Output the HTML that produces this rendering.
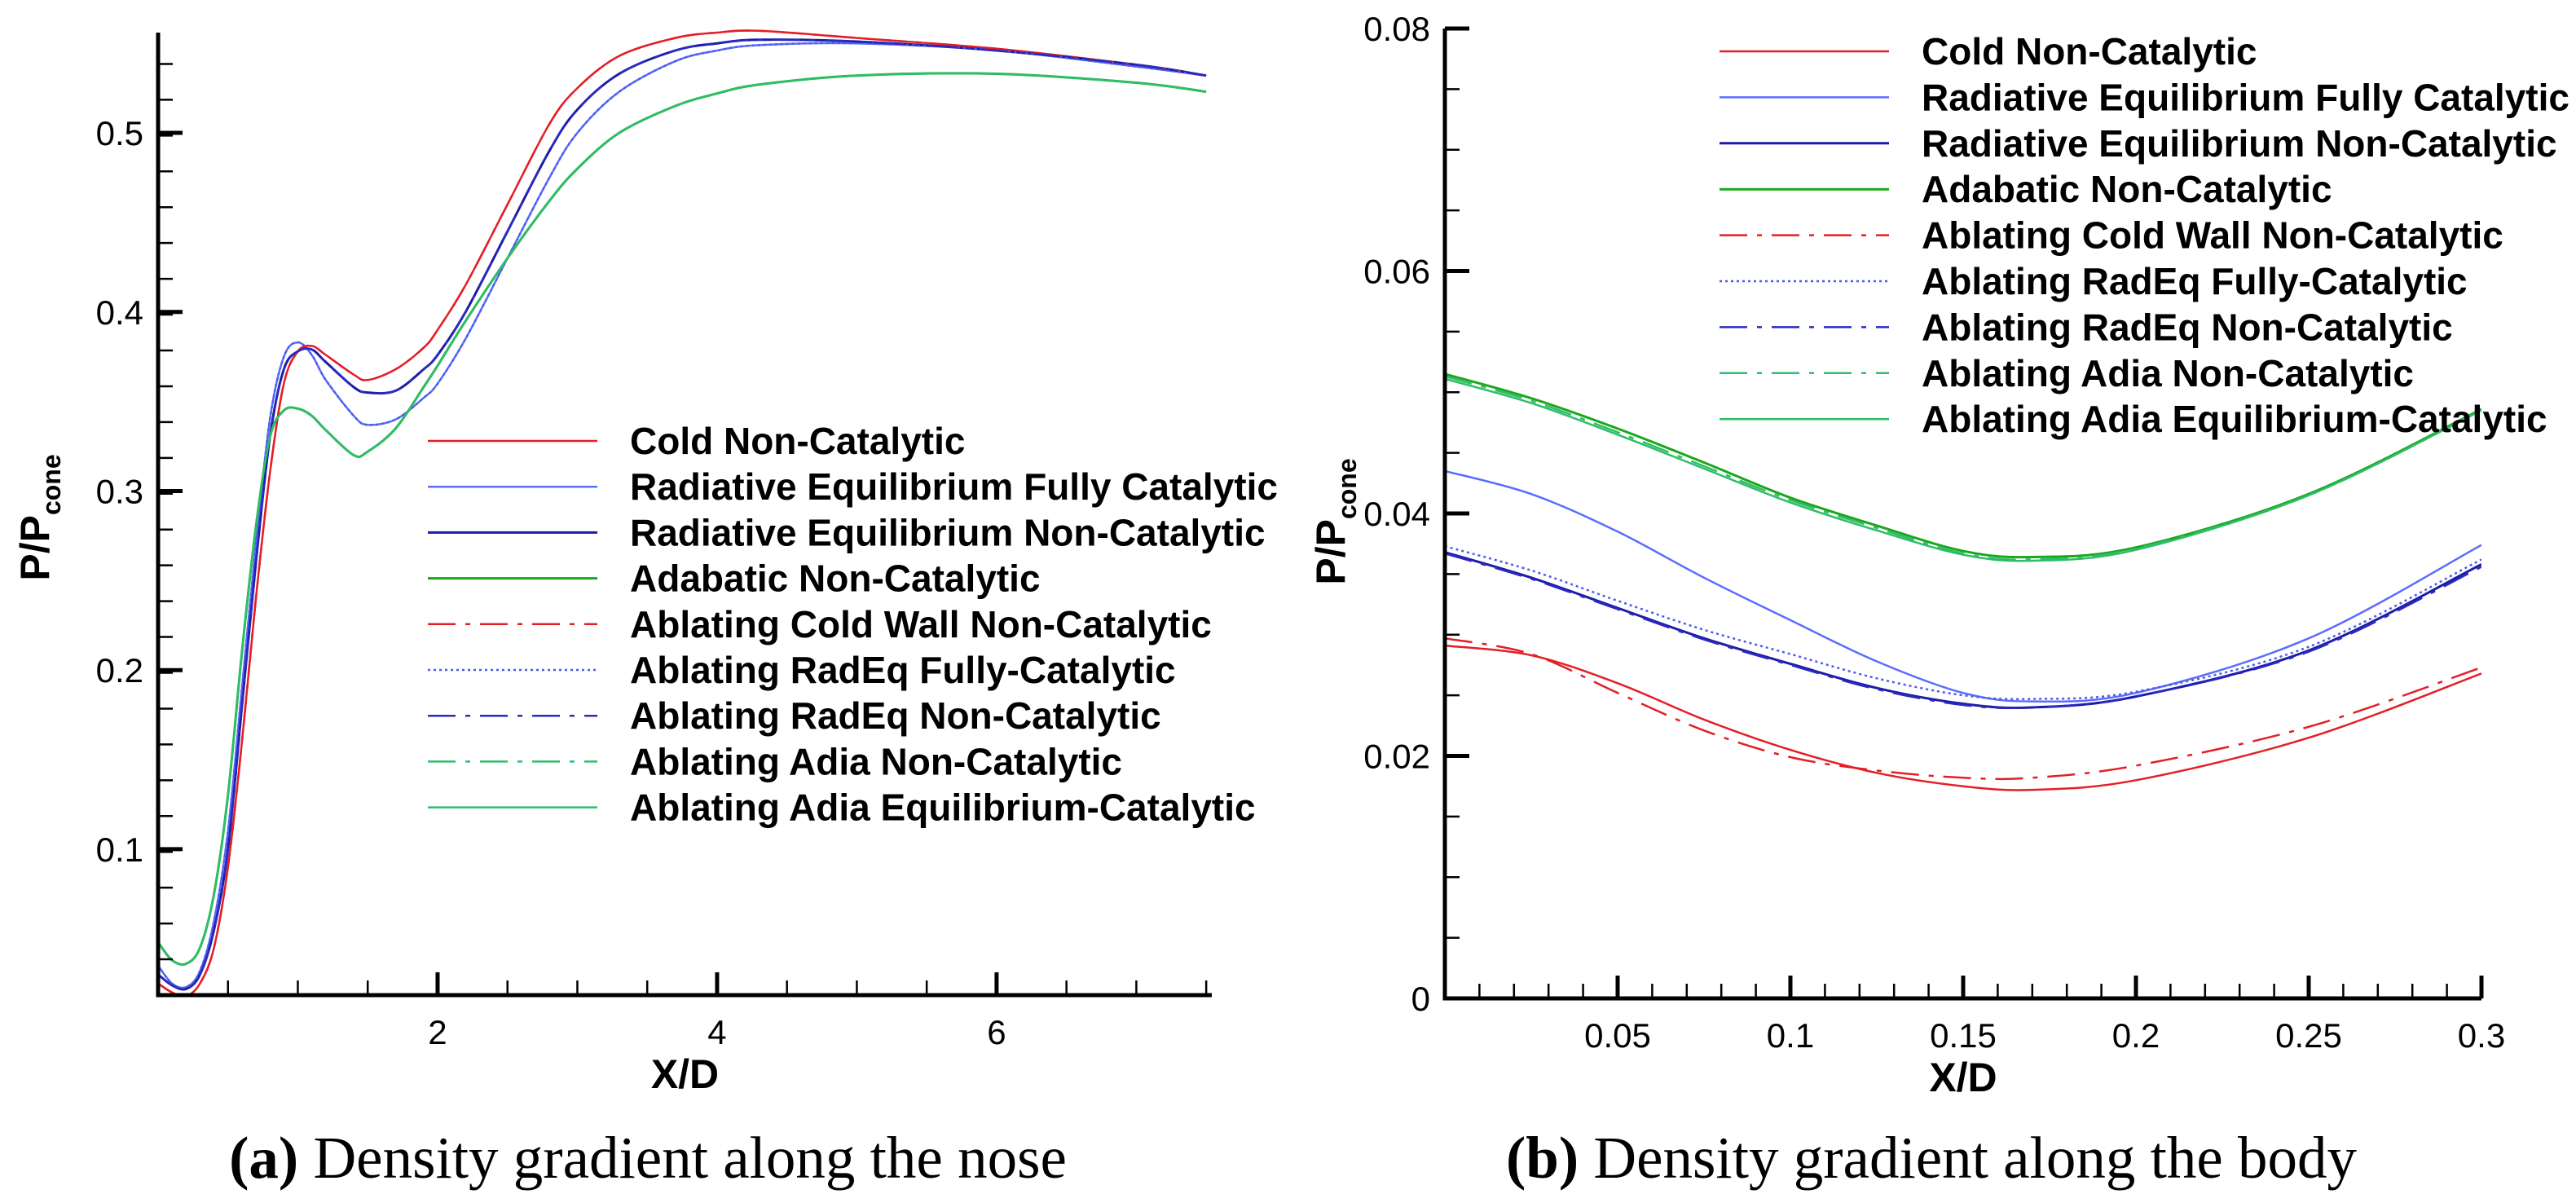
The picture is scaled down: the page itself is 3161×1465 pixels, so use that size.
<!DOCTYPE html>
<html><head><meta charset="utf-8">
<style>
html,body{margin:0;padding:0;background:#fff;}
svg{display:block;}
text{font-family:"Liberation Sans",Arial,sans-serif;}
.tick{font-size:42px;fill:#000;}
.leg{font-size:46px;font-weight:bold;fill:#000;}
.axt{font-size:50px;font-weight:bold;fill:#000;}
.cap{font-family:"Liberation Serif",serif;font-size:73px;fill:#000;}
</style></head>
<body>
<svg id="fig" width="3161" height="1465" viewBox="0 0 3161 1465" xmlns="http://www.w3.org/2000/svg">
<g id="chartA"></g>
<g id="chartB"></g>
<text class="cap" x="795" y="1445" text-anchor="middle"><tspan font-weight="bold">(a)</tspan> Density gradient along the nose</text>
<text class="cap" x="2370" y="1445" text-anchor="middle"><tspan font-weight="bold">(b)</tspan> Density gradient along the body</text>
</svg>
<script>
// ---------- Chart A data (nose) ----------
const aX = [0,0.1,0.2,0.3,0.4,0.5,0.6,0.7,0.8,0.9,1.0,1.1,1.2,1.4,1.5,1.7,1.9,2.0,2.2,2.5,2.8,3.0,3.3,3.7,4.0,4.3,5.0,6.0,7.0,7.5];
const aCold = [0.025,0.02,0.018,0.025,0.045,0.09,0.16,0.24,0.31,0.36,0.378,0.381,0.376,0.365,0.362,0.368,0.38,0.39,0.415,0.46,0.505,0.525,0.543,0.553,0.556,0.557,0.553,0.547,0.538,0.532];
const aRadFC = [0.035,0.025,0.023,0.032,0.06,0.11,0.19,0.27,0.34,0.375,0.383,0.376,0.362,0.342,0.337,0.34,0.352,0.36,0.385,0.43,0.475,0.5,0.523,0.54,0.546,0.549,0.55,0.546,0.537,0.532];
const aRadNC = [0.03,0.024,0.022,0.03,0.055,0.1,0.18,0.26,0.33,0.368,0.378,0.379,0.372,0.358,0.355,0.356,0.368,0.376,0.4,0.445,0.49,0.513,0.533,0.546,0.55,0.552,0.551,0.546,0.538,0.532];
const aAdia = [0.048,0.038,0.036,0.045,0.075,0.13,0.21,0.28,0.33,0.345,0.346,0.342,0.334,0.32,0.322,0.335,0.358,0.37,0.395,0.43,0.462,0.48,0.5,0.515,0.522,0.527,0.532,0.533,0.528,0.523];
const aAbCold = aCold.slice();
const aAbRadFC = aRadFC.slice();
const aAbRadNC = aRadNC.slice();
const aAbAdiaNC = aAdia.slice();
const aAbAdiaEq = aAdia.slice();
const aYTicks = [0.1,0.2,0.3,0.4,0.5];
const aXTicks = [2,4,6];

// ---------- Chart B data (body) ----------
const bX = [0,0.025,0.05,0.075,0.1,0.125,0.15,0.17,0.2,0.25,0.3];
const bCold = [0.0291,0.0283,0.026,0.023,0.0205,0.0186,0.0175,0.0172,0.018,0.0215,0.0268];
const bRadFC = [0.0435,0.0416,0.0385,0.0347,0.0312,0.0278,0.0252,0.0245,0.0252,0.0297,0.0374];
const bRadNC = [0.0368,0.0347,0.0322,0.0297,0.0276,0.0256,0.0243,0.024,0.0249,0.0287,0.0358];
const bAdia = [0.0515,0.0495,0.047,0.0442,0.0413,0.039,0.0369,0.0364,0.0372,0.0416,0.0486];
const bAbCold = [0.0297,0.0284,0.0252,0.0221,0.0199,0.0188,0.0182,0.0182,0.0192,0.0224,0.0273];
const bAbRadFC = [0.0373,0.0353,0.0328,0.0304,0.0284,0.0264,0.025,0.0247,0.0253,0.029,0.0362];
const bAbRadNC = [0.0367,0.0346,0.0321,0.0296,0.0275,0.0255,0.0242,0.024,0.0249,0.0286,0.0356];
const bAbAdiaNC = [0.0513,0.0493,0.0467,0.0439,0.0411,0.0388,0.0367,0.0362,0.0371,0.0415,0.0485];
const bAbAdiaEq = [0.0511,0.0491,0.0465,0.0437,0.0409,0.0386,0.0366,0.0361,0.037,0.0415,0.0485];
const bYTicks = [0,0.02,0.04,0.06,0.08];
const bXTicks = [0.05,0.1,0.15,0.2,0.25,0.3];

const legendNames = ["Cold Non-Catalytic","Radiative Equilibrium Fully Catalytic","Radiative Equilibrium Non-Catalytic","Adabatic Non-Catalytic","Ablating Cold Wall Non-Catalytic","Ablating RadEq Fully-Catalytic","Ablating RadEq Non-Catalytic","Ablating Adia Non-Catalytic","Ablating Adia Equilibrium-Catalytic"];
const styles = [
 {c:"#e41e26",d:"",w:2.5},{c:"#5b6cff",d:"",w:2.5},{c:"#1c1ca8",d:"",w:3},{c:"#1aa81a",d:"",w:3},
 {c:"#e41e26",d:"34 12 6 12",w:2.5},{c:"#4a5ce8",d:"3 4",w:2.5},{c:"#2a2ac0",d:"34 12 6 12",w:2.5},
 {c:"#2ebd6a",d:"34 12 6 12",w:2.5},{c:"#2ebd6a",d:"",w:2.5}];
const NS="http://www.w3.org/2000/svg";
function mk(parent,tag,attrs){const e=document.createElementNS(NS,tag);for(const k in attrs)e.setAttribute(k,attrs[k]);parent.appendChild(e);return e;}
function smoothPath(pts){let d="M"+pts[0][0].toFixed(1)+","+pts[0][1].toFixed(1);
 for(let i=0;i<pts.length-1;i++){const p0=pts[Math.max(0,i-1)],p1=pts[i],p2=pts[i+1],p3=pts[Math.min(pts.length-1,i+2)];
  const c1=[p1[0]+(p2[0]-p0[0])/6,p1[1]+(p2[1]-p0[1])/6],c2=[p2[0]-(p3[0]-p1[0])/6,p2[1]-(p3[1]-p1[1])/6];
  d+=" C"+c1[0].toFixed(1)+","+c1[1].toFixed(1)+" "+c2[0].toFixed(1)+","+c2[1].toFixed(1)+" "+p2[0].toFixed(1)+","+p2[1].toFixed(1);}
 return d;}

function drawChart(g,cfg){
 const sx=v=>cfg.x0+(v-cfg.xmin)*(cfg.x1-cfg.x0)/(cfg.xmax-cfg.xmin);
 const sy=v=>cfg.y0+(v-cfg.ymin)*(cfg.y1-cfg.y0)/(cfg.ymax-cfg.ymin);
 const clip=mk(g,"clipPath",{id:cfg.id+"clip"});
 mk(clip,"rect",{x:cfg.x0,y:cfg.y1-5,width:cfg.x1-cfg.x0,height:cfg.y0-cfg.y1+5});
 const sg=mk(g,"g",{"clip-path":"url(#"+cfg.id+"clip)"});
 cfg.series.forEach((s,i)=>{
  const pts=cfg.xs.map((x,j)=>[sx(x),sy(s[j])]);
  const p=mk(sg,"path",{d:smoothPath(pts),fill:"none",stroke:styles[i].c,"stroke-width":styles[i].w,"stroke-dasharray":styles[i].d});
  
  
 });
 for(let v=cfg.ymin;v<=cfg.ymax+1e-9;v+=cfg.yminor){const y=sy(v);if(y<cfg.y1-1)continue;
  const t=mk(g,"line",{x1:cfg.x0,x2:cfg.x0+18,y1:y,y2:y,stroke:"#000","stroke-width":2.5});
  }
 for(let v=Math.ceil(cfg.xmin/cfg.xminor)*cfg.xminor;v<=cfg.xmax+1e-9;v+=cfg.xminor){const x=sx(v);
  const t=mk(g,"line",{x1:x,x2:x,y1:cfg.y0,y2:cfg.y0-18,stroke:"#000","stroke-width":2.5});
  }
 const ax=mk(g,"path",{d:`M${cfg.x0},${cfg.y1} L${cfg.x0},${cfg.y0} L${cfg.x1},${cfg.y0}`,fill:"none",stroke:"#000","stroke-width":5});
 
 cfg.yt.forEach(v=>{const y=sy(v);
  const t=mk(g,"line",{x1:cfg.x0,x2:cfg.x0+30,y1:y,y2:y,stroke:"#000","stroke-width":5});
  
  const l=mk(g,"text",{x:cfg.x0-18,y:y+15,"text-anchor":"end",class:"tick"});l.textContent=String(v);
  });
 cfg.xt.forEach(v=>{const x=sx(v);
  const t=mk(g,"line",{x1:x,x2:x,y1:cfg.y0,y2:cfg.y0-28,stroke:"#000","stroke-width":5});
  
  const l=mk(g,"text",{x:x,y:cfg.y0+60,"text-anchor":"middle",class:"tick"});l.textContent=String(v);
  });
 const xt=mk(g,"text",{x:(cfg.x0+cfg.x1)/2,y:cfg.y0+114,"text-anchor":"middle",class:"axt"});xt.textContent="X/D";
 
 const yt=mk(g,"text",{transform:`translate(${cfg.ytx},${cfg.yty}) rotate(-90)`,"text-anchor":"middle",class:"axt"});
 yt.innerHTML='P/P<tspan font-size="32" dy="14">cone</tspan>';
 
 legendNames.forEach((n,i)=>{const y=cfg.ly+i*cfg.lstep;
  const eg=mk(g,"g",{});
  
  mk(eg,"line",{x1:cfg.lx,x2:cfg.lx+208,y1:y,y2:y,stroke:styles[i].c,"stroke-width":styles[i].w,"stroke-dasharray":styles[i].d});
  const t=mk(eg,"text",{x:cfg.lx+248,y:y+16,class:"leg"});t.textContent=n;});
}
drawChart(document.getElementById("chartA"),{id:"a",x0:194,x1:1487,y0:1221,y1:40,xmin:0,xmax:7.54,ymin:0.0185,ymax:0.556,
 xs:aX,series:[aCold,aRadFC,aRadNC,aAdia,aAbCold,aAbRadFC,aAbRadNC,aAbAdiaNC,aAbAdiaEq],
 yt:aYTicks,xt:aXTicks,yminor:0.02,xminor:0.5,ytx:60,yty:635,lx:525,ly:541,lstep:56.2});
drawChart(document.getElementById("chartB"),{id:"b",x0:1773,x1:3045,y0:1225,y1:35,xmin:0,xmax:0.3,ymin:0,ymax:0.08,
 xs:bX,series:[bCold,bRadFC,bRadNC,bAdia,bAbCold,bAbRadFC,bAbRadNC,bAbAdiaNC,bAbAdiaEq],
 yt:bYTicks,xt:bXTicks,yminor:0.005,xminor:0.01,ytx:1650,yty:640,lx:2110,ly:63,lstep:56.4});
</script>
</body></html>
